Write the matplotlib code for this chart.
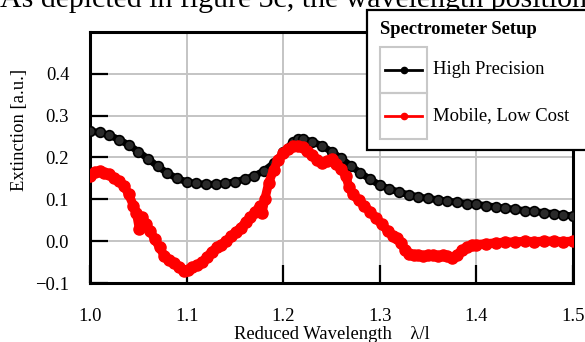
import matplotlib
matplotlib.use("Agg")
import matplotlib.pyplot as plt
from matplotlib.lines import Line2D
from matplotlib.patches import Rectangle

plt.rcParams['font.family'] = ['Liberation Serif', 'DejaVu Serif']

# ---- data ----
hp_x = [1.00, 1.01, 1.02, 1.03, 1.04, 1.05, 1.06, 1.07, 1.08, 1.09,
        1.10, 1.11, 1.12, 1.13, 1.14, 1.15, 1.16, 1.17, 1.18, 1.19,
        1.20, 1.21, 1.215, 1.22, 1.23, 1.24, 1.25, 1.26, 1.27, 1.28,
        1.29, 1.30, 1.31, 1.32, 1.33, 1.34, 1.35, 1.36, 1.37, 1.38,
        1.39, 1.40, 1.41, 1.42, 1.43, 1.44, 1.45, 1.46, 1.47, 1.48,
        1.49, 1.50]
hp_y = [0.263, 0.260, 0.253, 0.243, 0.230, 0.214, 0.197, 0.179, 0.163, 0.150,
        0.142, 0.138, 0.136, 0.136, 0.138, 0.142, 0.148, 0.156, 0.168, 0.186,
        0.212, 0.237, 0.245, 0.244, 0.238, 0.228, 0.214, 0.198, 0.180, 0.163,
        0.148, 0.134, 0.125, 0.117, 0.111, 0.106, 0.102, 0.099, 0.096, 0.093,
        0.090, 0.088, 0.085, 0.082, 0.079, 0.076, 0.073, 0.071, 0.068, 0.066,
        0.063, 0.060]

mob_x = [1.000, 1.005, 1.010, 1.015, 1.020, 1.025, 1.030, 1.035, 1.040, 1.045,
         1.048, 1.051, 1.054, 1.058, 1.062, 1.067, 1.072, 1.077, 1.082, 1.087,
         1.092, 1.097, 1.101, 1.106, 1.111, 1.116, 1.121, 1.126, 1.131, 1.136,
         1.141, 1.146, 1.151, 1.156, 1.161, 1.166, 1.171, 1.176, 1.178, 1.181,
         1.185, 1.190, 1.195, 1.200, 1.205, 1.210, 1.215, 1.220, 1.225, 1.230,
         1.235, 1.240, 1.245, 1.250, 1.255, 1.260, 1.265, 1.268, 1.272, 1.278,
         1.284, 1.290, 1.296, 1.302, 1.308, 1.314, 1.318, 1.322, 1.326, 1.330,
         1.335, 1.340, 1.345, 1.350, 1.355, 1.360, 1.365, 1.370, 1.375, 1.380,
         1.385, 1.390, 1.395, 1.400, 1.410, 1.420, 1.430, 1.440, 1.450, 1.460,
         1.470, 1.480, 1.490, 1.500]
mob_y = [0.155, 0.165, 0.168, 0.163, 0.160, 0.152, 0.143, 0.133, 0.112, 0.085,
         0.068, 0.030, 0.058, 0.042, 0.025, 0.005, -0.015, -0.035, -0.045, -0.052,
         -0.062, -0.072, -0.068, -0.062, -0.057, -0.050, -0.038, -0.025, -0.015, -0.008,
         0.000, 0.012, 0.022, 0.032, 0.045, 0.057, 0.070, 0.085, 0.067, 0.100,
         0.140, 0.170, 0.195, 0.210, 0.220, 0.228, 0.227, 0.225, 0.215, 0.205,
         0.195, 0.188, 0.192, 0.196, 0.185, 0.172, 0.155, 0.130, 0.112, 0.098,
         0.085, 0.070, 0.055, 0.040, 0.025, 0.012, 0.008, -0.005, -0.020, -0.030,
         -0.034, -0.033, -0.035, -0.034, -0.033, -0.035, -0.034, -0.036, -0.040, -0.032,
         -0.022, -0.015, -0.010, -0.008, -0.006, -0.004, -0.002, -0.002, 0.000, -0.001,
         0.000, 0.000, -0.001, 0.000]

x_ticks = [1.0, 1.1, 1.2, 1.3, 1.4, 1.5]
y_ticks = [-0.1, 0.0, 0.1, 0.2, 0.3, 0.4]
series_names = ["High Precision", "Mobile, Low Cost"]
legend_title = "Spectrometer Setup"

W, H = 585, 342
fig = plt.figure(figsize=(W / 100, H / 100), dpi=100)
ax = fig.add_axes([90 / W, 1 - 283 / H, (573 - 90) / W, (283 - 32) / H])

FS = 13.4

ax.plot(hp_x, hp_y, color='black', lw=5, marker='o', ms=7, mfc='#2a2a2a',
        mec='black', mew=1.2, zorder=3)
ax.plot(mob_x, mob_y, color='#ff0000', lw=6.5, marker='o', ms=8, mfc='#ff0000',
        mec='#ff0000', zorder=4)

ax.set_xlim(1.0, 1.5)
ax.set_ylim(-0.1, 0.5)
ax.set_xticks(x_ticks)
ax.set_yticks(y_ticks)
ax.set_xticklabels([f"{v:.1f}" for v in x_ticks])
ax.set_yticklabels([f"{v:.1f}".replace('-', '\u2212') for v in y_ticks])
ax.grid(True, color='#c4c4c4', lw=1.4, zorder=0)
ax.set_axisbelow(True)
ax.tick_params(direction='in', length=13, width=1.6, labelsize=FS, colors='black')
ax.tick_params(axis='x', pad=18)
ax.tick_params(axis='y', pad=15)
for s in ax.spines.values():
    s.set_linewidth(2.2)
    s.set_color('black')

ax.set_xlabel("Reduced Wavelength    \u03bb/l", fontsize=FS, labelpad=1)
ax.set_ylabel("Extinction [a.u.]", fontsize=FS)
ax.yaxis.set_label_coords(-0.128, 0.61)

# top document text (cut by the crop, as in the reference)
fig.text(0.0, 1 - 7 / H, "As depicted in figure 3c, the wavelength position",
         fontsize=21.5, va='baseline', ha='left')

# ---- legend (boxed handles as in the reference) ----
def F(x, y):
    return (x / W, 1 - y / H)

tr = fig.transFigure
fig.add_artist(Rectangle(F(367, 150), (W + 30 - 367) / W, 140 / H, transform=tr,
                         facecolor='white', edgecolor='black', lw=1.6, zorder=10))
fig.text(*F(380, 29), legend_title, fontsize=FS, fontweight='bold',
         va='center', ha='left', zorder=11)
colors = ['black', '#ff0000']
ycent = [70, 116]
for name, c, yc in zip(series_names, colors, ycent):
    fig.add_artist(Rectangle(F(380, yc + 23), 47 / W, 46 / H, transform=tr,
                             facecolor='none', edgecolor='#c8c8c8', lw=1.5, zorder=11))
    x0, y0 = F(385, yc)
    x1, _ = F(422, yc)
    fig.add_artist(Line2D([x0, (x0 + x1) / 2, x1], [y0, y0, y0], transform=tr,
                          color=c, lw=2, marker='o', ms=4.5, markevery=[1], zorder=12))
    fig.text(*F(433, yc), name, fontsize=FS, va='center', ha='left', zorder=12)

fig.savefig("out.png", dpi=100)
